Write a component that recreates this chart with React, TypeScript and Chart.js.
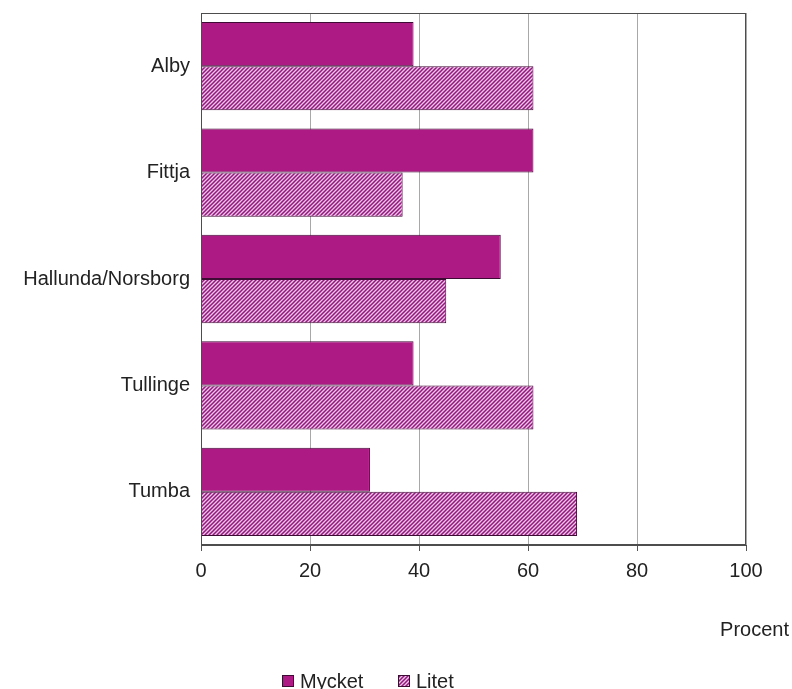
import React, { useEffect, useRef } from 'react';
import { Chart, registerables } from 'chart.js';

Chart.register(...registerables);

const categories = ['Alby', 'Fittja', 'Hallunda/Norsborg', 'Tullinge', 'Tumba'];
const mycket = [39, 61, 55, 39, 31];
const litet = [61, 37, 45, 61, 69];
const seriesNames = ['Mycket', 'Litet'];
const xMin = 0;
const xMax = 100;
const xStep = 20;
const axisUnit = 'Procent';

const FONT = '"Liberation Sans", Arial, sans-serif';
const SOLID = '#AE1A84';
const HATCH_BG = '#F3C2EA';
const HATCH_LINE = '#8E1A7C';
const BAR_BORDER = '#3E0B35';
const TEXT = '#222222';

function makeHatch(ctx: CanvasRenderingContext2D) {
  const c = document.createElement('canvas');
  c.width = 4;
  c.height = 4;
  const g = c.getContext('2d')!;
  g.fillStyle = HATCH_BG;
  g.fillRect(0, 0, 4, 4);
  g.strokeStyle = HATCH_LINE;
  g.lineWidth = 1.5;
  g.beginPath();
  g.moveTo(0, 4);
  g.lineTo(4, 0);
  g.moveTo(-1, 1);
  g.lineTo(1, -1);
  g.moveTo(3, 5);
  g.lineTo(5, 3);
  g.stroke();
  return ctx.createPattern(c, 'repeat')!;
}

export default function App() {
  const ref = useRef<HTMLCanvasElement | null>(null);

  useEffect(() => {
    const canvas = ref.current!;
    const ctx = canvas.getContext('2d')!;
    const hatch = makeHatch(ctx);

    const decor = {
      id: 'decor',
      afterDraw(chart: any) {
        const c = chart.ctx as CanvasRenderingContext2D;
        const a = chart.chartArea;
        c.save();
        c.strokeStyle = '#4d4d4d';
        c.lineWidth = 1;
        c.strokeRect(Math.round(a.left) + 0.5, Math.round(a.top) + 0.5, Math.round(a.right - a.left) - 1, Math.round(a.bottom - a.top) - 1);
        c.fillStyle = TEXT;
        c.font = `20px ${FONT}`;
        c.textAlign = 'right';
        c.textBaseline = 'middle';
        c.fillText(axisUnit, 789, 630);
        const items = [
          { text: seriesNames[0], x: 282, fill: SOLID as any },
          { text: seriesNames[1], x: 398, fill: hatch as any },
        ];
        items.forEach((it) => {
          c.fillStyle = it.fill;
          c.fillRect(it.x, 675, 12, 12);
          c.strokeStyle = BAR_BORDER;
          c.strokeRect(it.x + 0.5, 675.5, 11, 11);
          c.fillStyle = TEXT;
          c.textAlign = 'left';
          c.textBaseline = 'alphabetic';
          c.fillText(it.text, it.x + 18, 688);
        });
        c.restore();
      },
    };

    const chart = new Chart(canvas, {
      type: 'bar',
      data: {
        labels: categories,
        datasets: [
          {
            label: seriesNames[0],
            data: mycket,
            backgroundColor: SOLID,
            borderColor: BAR_BORDER,
            borderWidth: 1,
            categoryPercentage: 0.83,
            barPercentage: 1,
          },
          {
            label: seriesNames[1],
            data: litet,
            backgroundColor: hatch,
            borderColor: BAR_BORDER,
            borderWidth: 1,
            categoryPercentage: 0.83,
            barPercentage: 1,
          },
        ],
      },
      options: {
        indexAxis: 'y',
        animation: false,
        responsive: false,
        devicePixelRatio: 1,
        layout: { padding: { left: 0, top: 13, right: 46, bottom: 0 } },
        font: { family: FONT },
        scales: {
          x: {
            min: xMin,
            max: xMax,
            ticks: { stepSize: xStep, font: { size: 20, family: FONT }, color: TEXT, padding: 8 },
            grid: { color: '#a8a8a8', tickColor: '#555', tickLength: 6, lineWidth: 1 },
            border: { color: '#4d4d4d' },
            afterFit: (s: any) => {
              s.height = 144;
              s.paddingLeft = 0;
              s.paddingRight = 0;
            },
          },
          y: {
            ticks: { font: { size: 20, family: FONT }, color: TEXT, padding: 11 },
            grid: { display: false, drawTicks: false },
            border: { color: '#4d4d4d' },
            afterFit: (s: any) => {
              s.width = 201;
              s.paddingTop = 0;
              s.paddingBottom = 0;
            },
          },
        },
        plugins: {
          legend: { display: false },
          tooltip: { enabled: false },
        },
      } as any,
      plugins: [decor],
    });
    return () => chart.destroy();
  }, []);

  return (
    <div style={{ position: 'fixed', left: 0, top: 0, width: 792, height: 689, background: '#fff' }}>
      <canvas ref={ref} width={792} height={689} style={{ width: 792, height: 689, display: 'block' }} />
    </div>
  );
}
